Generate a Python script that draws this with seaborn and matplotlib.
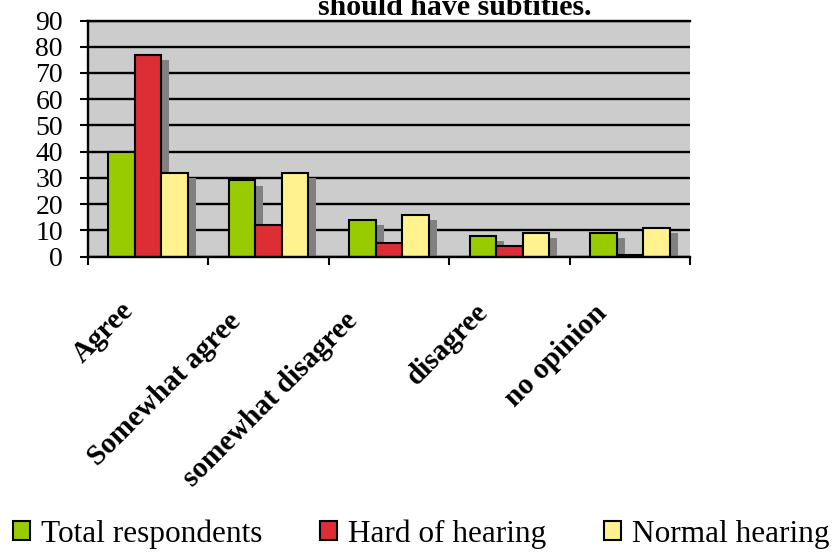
import matplotlib
matplotlib.use("Agg")
import matplotlib.pyplot as plt
import matplotlib.patheffects as pe
from matplotlib.patches import Patch
from matplotlib.transforms import ScaledTranslation
import pandas as pd
import seaborn as sns

# Survey answers (percent of respondents per group)
categories = ["Agree", "Somewhat agree", "somewhat disagree", "disagree", "no opinion"]
total_respondents = [40, 29, 14, 8, 9]
hard_of_hearing = [77, 12, 5, 4, 0.5]
normal_hearing = [32, 32, 16, 9, 11]
series_names = ["Total respondents", "Hard of hearing", "Normal hearing"]
series_colors = ["#99cc00", "#dd2d35", "#fff28f"]
y_ticks = list(range(0, 100, 10))
title_text = "should have subtities."

# extra nudge (pixels right, pixels down) for each rotated category label
label_nudges = [(0, 0), (-14, 11), (-17, 11), (-7, 2), (-9, 3)]

df = pd.DataFrame({
    "response": categories * 3,
    "group": [name for name in series_names for _ in categories],
    "percent": total_respondents + hard_of_hearing + normal_hearing,
})

sns.set_theme(style="white")
plt.rcParams["font.family"] = ["Liberation Serif", "DejaVu Serif"]
for key in ("text.color", "axes.labelcolor", "xtick.color", "ytick.color"):
    plt.rcParams[key] = "black"

fig, ax = plt.subplots(figsize=(8.34, 5.52), dpi=100)
fig.subplots_adjust(left=88 / 834, right=690 / 834,
                    top=1 - 20.5 / 552, bottom=1 - 256.5 / 552)

ax.set_facecolor("#cccccc")
ax.set_axisbelow(True)

sns.barplot(data=df, x="response", y="percent", hue="group",
            order=categories, hue_order=series_names, palette=series_colors,
            width=0.66, saturation=1, edgecolor="black", linewidth=1.5,
            errorbar=None, legend=False, ax=ax)

# drop shadow behind each bar
shadow = [pe.SimplePatchShadow(offset=(5.8, -4.0), shadow_rgbFace="#808080",
                               alpha=1.0, linewidth=0, foreground="#808080"),
          pe.Normal()]
for bar in ax.patches:
    bar.set_path_effects(shadow)

ax.set_ylim(0, 90)
ax.set_xlim(-0.5, len(categories) - 0.5)
ax.set_yticks(y_ticks)
ax.yaxis.grid(True, color="black", linewidth=1.7)
ax.xaxis.grid(False)
ax.set_xlabel("")
ax.set_ylabel("")

for side in ("left", "bottom", "top"):
    ax.spines[side].set_visible(True)
    ax.spines[side].set_color("black")
    ax.spines[side].set_linewidth(1.7)
ax.spines["right"].set_visible(False)

ax.tick_params(axis="y", direction="out", length=6, width=1.5, color="black",
               labelsize=20, pad=12, left=True)

# category boundaries carry the tick marks; labels sit at bar-group centres
ax.set_xticks(range(len(categories)))
ax.set_xticks([i - 0.5 for i in range(len(categories) + 1)], minor=True)
ax.tick_params(axis="x", which="major", length=0, pad=0)
ax.tick_params(axis="x", which="minor", direction="out", length=6, width=1.5,
               color="black", bottom=True)
ax.set_xticklabels(categories, rotation=45, ha="right", va="top",
                   rotation_mode="anchor", fontsize=21, fontweight="bold")
for lbl, (nx, ny) in zip(ax.get_xticklabels(), label_nudges):
    shift = ScaledTranslation((-28 + nx) / 100, (-40 - ny) / 100, fig.dpi_scale_trans)
    lbl.set_transform(lbl.get_transform() + shift)

fig.text(455 / 834, 1 - 15 / 552, title_text, ha="center", va="baseline",
         fontsize=21.5, fontweight="bold")

handles = [Patch(facecolor=c, edgecolor="black", linewidth=1.5) for c in series_colors]
fig.legend(handles, series_names, loc="center", bbox_to_anchor=(0.505, 1 - 534 / 552),
           ncol=3, frameon=False, fontsize=22.5, handlelength=0.55,
           handleheight=0.55, handletextpad=0.35, columnspacing=1.85)

fig.savefig("out.png", dpi=100)
